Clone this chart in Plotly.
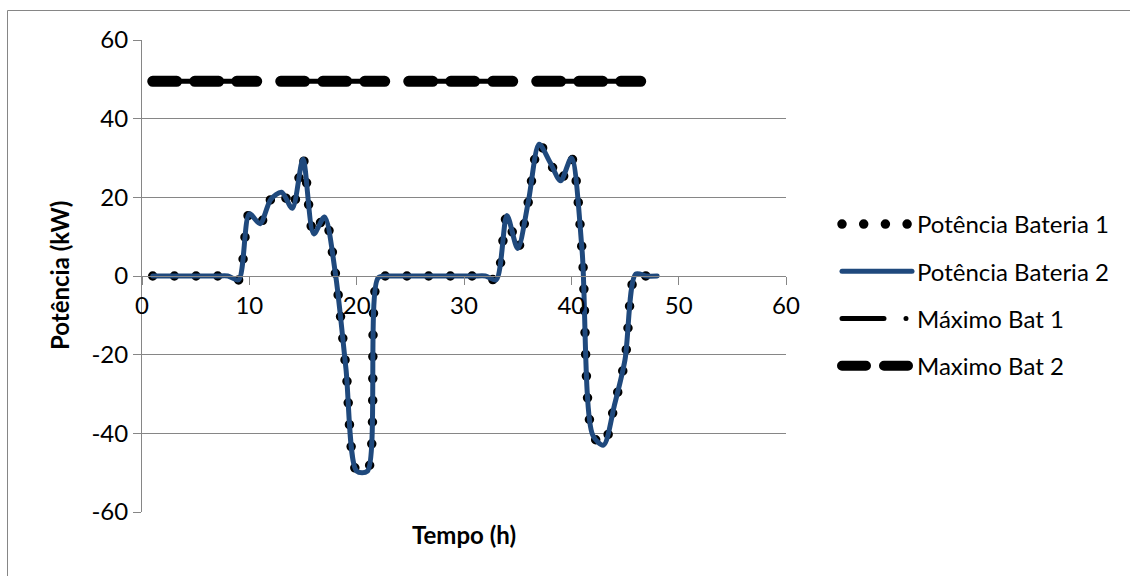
import plotly.graph_objects as go

# ---- data ----
hours = list(range(1, 49))
pot_bat1 = [0, 0, 0, 0, 0, 0, 0, 0, -1, 15.8, 13.3, 19.5, 21.3, 17.2, 29.7, 10.7, 15, 1,
            -23.5, -49.6, -49.6, -0.5, 0, 0, 0, 0, 0, 0, 0, 0, 0, 0, -1, 15.4, 7, 19, 33.5,
            29, 24.2, 30, 6.5, -40.5, -43, -33, -21.3, 0.5, 0, 0]
pot_bat2 = [0, 0, 0, 0, 0, 0, 0, 0, -1, 15.8, 13.3, 19.5, 21.3, 17.2, 29.7, 10.7, 15, 1,
            -23.5, -49.6, -49.6, -0.5, 0, 0, 0, 0, 0, 0, 0, 0, 0, 0, -1, 15.4, 7, 19, 33.5,
            29, 24.2, 30, 6.5, -40.5, -43, -33, -21.3, 0.5, 0, 0]
max_x = [1, 48]
max_bat1 = [49.5, 49.5]
max_bat2 = [49.5, 49.5]

x_ticks = [0, 10, 20, 30, 40, 50, 60]
y_ticks = [-60, -40, -20, 0, 20, 40, 60]
y_ticktext = ["-60", "-40", "-20", "0", "20", "40", "60"]

GRID = "rgb(134,134,134)"
BLUE = "rgb(31,73,125)"
FONT = "Lato"
FS = 24

fig = go.Figure()
fig.add_trace(go.Scatter(x=hours, y=pot_bat1, mode="lines", name="Potência Bateria 1",
                         legendgroup="a",
                         line=dict(color="black", width=9.5, dash="0px,21.7px",
                                   shape="spline", smoothing=0.8)))
fig.add_trace(go.Scatter(x=hours, y=pot_bat2, mode="lines", name="Potência Bateria 2",
                         legendgroup="b",
                         line=dict(color=BLUE, width=5, shape="spline", smoothing=0.8)))
fig.add_trace(go.Scatter(x=max_x, y=max_bat1, mode="lines", name="Máximo Bat 1",
                         legendgroup="c",
                         line=dict(color="black", width=5,
                                   dash="42px,22px,0px,6px,30px,28px")))
fig.add_trace(go.Scatter(x=max_x, y=max_bat2, mode="lines", name="Maximo Bat 2",
                         legendgroup="d",
                         line=dict(color="black", width=11,
                                   dash="24px,18px,24px,18px,20px,24px")))

px2x = lambda p: (p - 142) / 644.0
px2y = lambda p: (512 - p) / 472.0

fig.update_layout(
    width=1130, height=576,
    margin=dict(l=142, r=344, t=40, b=64),
    paper_bgcolor="white", plot_bgcolor="white",
    font=dict(family=FONT, size=FS, color="black"),
    showlegend=True,
    legend=dict(x=px2x(837), y=px2y(202), xanchor="left", yanchor="top",
                itemwidth=70, tracegroupgap=13, font=dict(family=FONT, size=FS),
                bgcolor="rgba(0,0,0,0)"),
    xaxis=dict(range=[0, 60], tickvals=x_ticks, anchor="free", position=0.5,
               showgrid=False, zeroline=False, showline=True, linecolor=GRID, linewidth=1,
               ticks="outside", ticklen=8, tickcolor=GRID, tickwidth=1,
               tickfont=dict(family=FONT, size=FS, color="black")),
    yaxis=dict(range=[-60, 60], tickvals=y_ticks, ticktext=y_ticktext,
               showgrid=True, gridcolor=GRID, gridwidth=1,
               zeroline=False, showline=True, linecolor=GRID, linewidth=1,
               ticks="outside", ticklen=8, tickcolor=GRID, tickwidth=1,
               tickfont=dict(family=FONT, size=FS, color="black")),
    annotations=[
        dict(text="<b>Potência (kW)</b>", xref="paper", yref="paper", x=px2x(59), y=0.5,
             textangle=-90, showarrow=False, xanchor="center", yanchor="middle",
             font=dict(family=FONT, size=FS)),
        dict(text="<b>Tempo (h)</b>", xref="paper", yref="paper", x=0.5, y=px2y(534),
             showarrow=False, xanchor="center", yanchor="middle",
             font=dict(family=FONT, size=FS)),
    ],
    shapes=[
        dict(type="line", xref="paper", yref="paper", x0=px2x(7.5), x1=px2x(7.5),
             y0=px2y(600), y1=px2y(10.5), line=dict(color=GRID, width=1)),
        dict(type="line", xref="paper", yref="paper", x0=px2x(7.5), x1=px2x(1140),
             y0=px2y(10.5), y1=px2y(10.5), line=dict(color=GRID, width=1)),
    ],
)

post = """
var s=document.createElement('style');
s.innerHTML='.scatterlayer path.js-line, .legendlines path{stroke-linecap:round !important;stroke-linejoin:round !important;}';
document.head.appendChild(s);
"""
fig.write_html("out.html", config={"displayModeBar": False}, post_script=post)
